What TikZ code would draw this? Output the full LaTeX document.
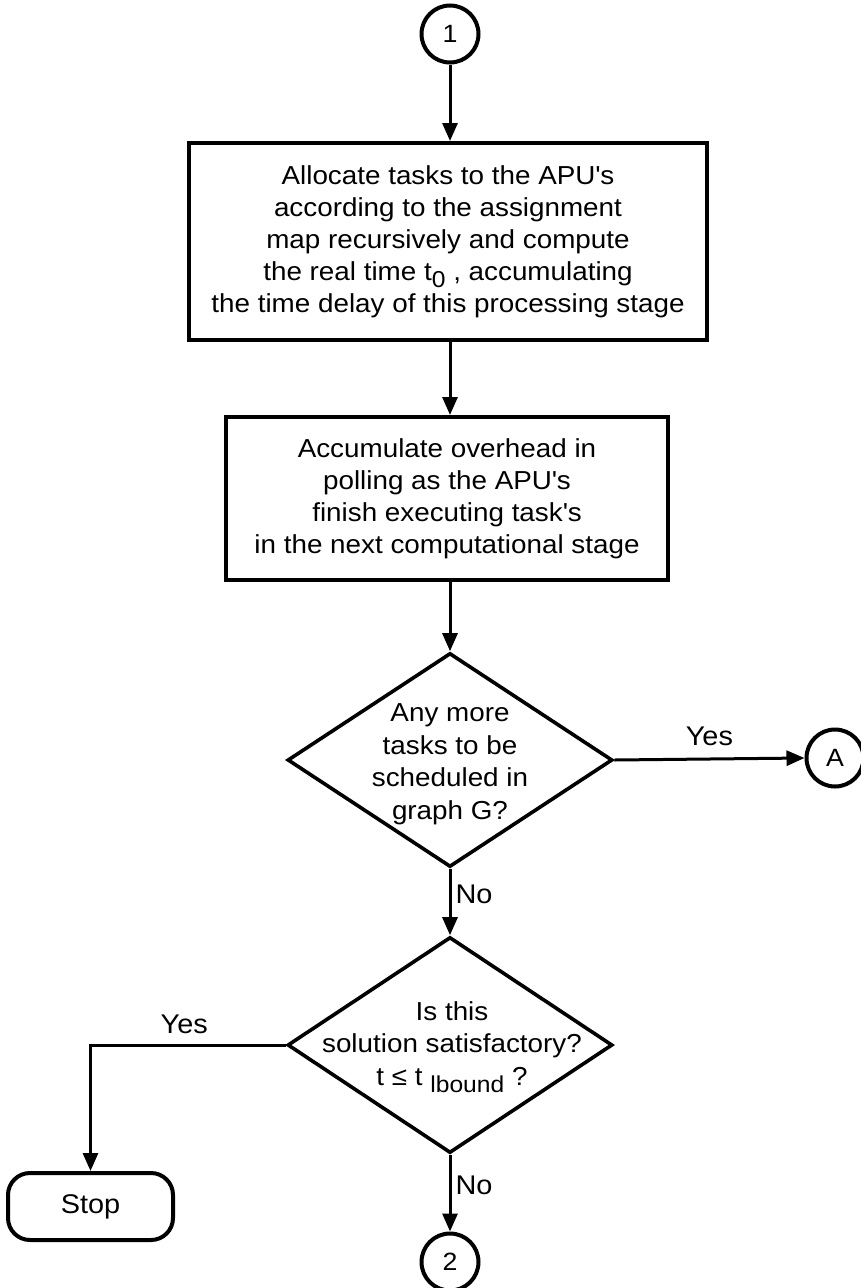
\documentclass[tikz,border=0pt]{standalone}
\usepackage{fontspec}
\setmainfont{Liberation Sans}[FakeStretch=1.07]
\usetikzlibrary{arrows.meta,shapes.geometric}

\newcommand{\lowsub}[1]{\raisebox{-7pt}{\fontsize{23}{23}\selectfont #1}}
\newcommand{\apos}{\textquotesingle}

\begin{document}
\begin{tikzpicture}[x=1pt,y=-1pt,
  body/.style={font=\fontsize{26}{32}\selectfont, align=center},
  procbox/.style={draw, line width=4pt, inner sep=0pt, body},
  decision/.style={draw, diamond, line width=3.6pt, inner sep=0pt},
  connector/.style={draw, circle, line width=4pt, minimum size=57pt, inner sep=0pt,
                    font=\fontsize{25}{25}\selectfont},
  terminal/.style={draw, rounded corners=22pt, line width=4pt, inner sep=0pt,
                   font=\fontsize{27}{27}\selectfont},
  flow/.style={line width=3pt, -{Triangle[length=18pt,width=15pt]}},
  lbl/.style={font=\fontsize{27}{27}\selectfont, inner sep=4pt}
]
\useasboundingbox (0,0) rectangle (860,1288);

% connectors and terminal
\node[connector] (c1) at (450,34) {1};
\node[connector] (cA) at (835,758) {A};
\node[connector] (c2) at (450,1262) {2};
\node[terminal, minimum width=165pt, minimum height=67pt] (stop) at (90.5,1206.5) {Stop};

% process boxes
\node[procbox, minimum width=518pt, minimum height=197pt] (b1) at (448,241.5)
  {Allocate tasks to the APU\apos s\\
   according to the assignment\\
   map recursively and compute\\
   the real time t\lowsub{0} , accumulating\\
   the time delay of this processing stage};

\node[procbox, minimum width=442pt, minimum height=163pt] (b2) at (447,498.5)
  {Accumulate overhead in\\
   polling as the APU\apos s\\
   finish executing task\apos s\\
   in the next computational stage};

% decisions
\node[decision, minimum width=325pt, minimum height=214pt] (d1) at (450,760) {};
\node[body, font=\fontsize{26}{32.5}\selectfont] (d1t) at (450,764)
  {Any more\\tasks to be\\scheduled in\\graph G?};

\node[decision, minimum width=325pt, minimum height=216pt] (d2) at (450,1045) {};
\node[body, font=\fontsize{26}{32.5}\selectfont] (d2t) at (452,1047)
  {Is this\\solution satisfactory?\\t ≤ t \lowsub{lbound} ?};

% flow lines
\draw[flow] (c1.south) -- (c1.south |- b1.north);
\draw[flow] (c1 |- b1.south) -- (c1 |- b2.north);
\draw[flow] (d1.north |- b2.south) -- (d1.north);
\draw[flow] (d1.east) -- (cA.west) node[midway, above, lbl, inner sep=12pt] {Yes};
\draw[flow] (d1.south) -- (d2.north) node[pos=0.38, right, lbl] {No};
\draw[flow] (d2.west) -| (stop.north) node[pos=0.26, above, lbl, inner sep=10pt] {Yes};
\draw[flow] (d2.south) -- (c2.north) node[pos=0.4, right, lbl] {No};
\end{tikzpicture}
\end{document}
